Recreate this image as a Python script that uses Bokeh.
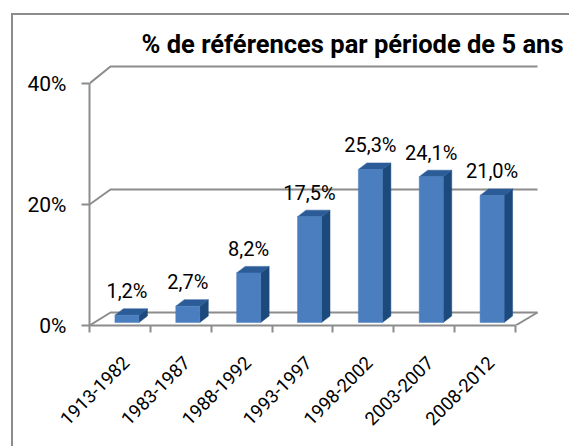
import math
from bokeh.plotting import figure
from bokeh.models import FixedTicker, Range1d, InlineStyleSheet
from bokeh.embed import file_html
from bokeh.resources import INLINE
from bokeh.core.properties import value

# ---- data ----
categories = ["1913-1982", "1983-1987", "1988-1992", "1993-1997",
              "1998-2002", "2003-2007", "2008-2012"]
percentages = [1.2, 2.7, 8.2, 17.5, 25.3, 24.1, 21.0]
y_ticks = [0, 20, 40]
y_tick_labels = ["0%", "20%", "40%"]
title_text = "% de références par période de 5 ans"

# ---- layout / style ----
W, H = 569, 446
LEFT, TOP, BOTTOM = 89, 60, 121
PX_X = 60.86     # pixels per category
PX_Y = 6.05      # pixels per percent
x_end = (W - LEFT) / PX_X
y_end = (H - TOP - BOTTOM) / PX_Y
GREY = "#8c8c8c"
FRONT = "#4a7ebf"
SIDE = "#1d4a7c"
TOPC = "#2b5c98"
FONT = "Roboto"
LABEL_SHIFT = 6 / PX_X   # category labels sit slightly right of the slot centre

border_css = InlineStyleSheet(css="""
:host::after {
  content: '';
  position: absolute;
  left: 11px; top: 13px; right: 0; bottom: 0;
  border-left: 2px solid #8c8c8c;
  border-top: 2px solid #8c8c8c;
  pointer-events: none;
  z-index: 10;
}
""")

p = figure(width=W, height=H, output_backend="svg", toolbar_location=None,
           x_range=Range1d(0, x_end), y_range=Range1d(0, y_end),
           min_border_left=LEFT, min_border_right=0,
           min_border_top=TOP, min_border_bottom=BOTTOM,
           stylesheets=[border_css])
p.outline_line_color = None
p.xgrid.visible = False
p.ygrid.visible = False
p.background_fill_color = "white"
p.border_fill_color = "white"

# title
p.title.text = title_text
p.title.text_font = FONT
p.title.text_font_style = "bold"
p.title.text_font_size = "25.5px"
p.title.text_color = "black"
p.title.align = "left"
p.title.offset = 52
p.title.standoff = 4

# y axis
p.yaxis.ticker = FixedTicker(ticks=y_ticks)
p.yaxis.major_label_overrides = {t: l for t, l in zip(y_ticks, y_tick_labels)}
p.yaxis.bounds = (min(y_ticks), max(y_ticks))
p.yaxis.axis_line_color = GREY
p.yaxis.axis_line_width = 2
p.yaxis.major_tick_line_color = GREY
p.yaxis.major_tick_line_width = 2
p.yaxis.major_tick_out = 8
p.yaxis.major_tick_in = 0
p.yaxis.minor_tick_line_color = None
p.yaxis.major_label_standoff = 15
p.yaxis.major_label_text_font = FONT
p.yaxis.major_label_text_font_size = "21px"
p.yaxis.major_label_text_color = "black"

# x axis (category labels near centers, tick marks at boundaries)
n = len(categories)
label_pos = [i + 0.5 + LABEL_SHIFT for i in range(n)]
bounds = list(range(n + 1))
p.xaxis.ticker = FixedTicker(ticks=label_pos, minor_ticks=bounds)
p.xaxis.major_label_overrides = {c: name for c, name in zip(label_pos, categories)}
p.xaxis.bounds = (0, n)
p.xaxis.axis_line_color = GREY
p.xaxis.axis_line_width = 2
p.xaxis.major_tick_line_color = None
p.xaxis.minor_tick_line_color = GREY
p.xaxis.minor_tick_line_width = 2
p.xaxis.minor_tick_out = 7
p.xaxis.minor_tick_in = 0
p.xaxis.major_label_orientation = math.pi / 4
p.xaxis.major_label_standoff = 27
p.xaxis.major_label_text_font = FONT
p.xaxis.major_label_text_font_size = "18.5px"
p.xaxis.major_label_text_color = "black"

# 3D back wall gridlines + floor
WALL_DX = 21 / PX_X
BACK_END = (537 - 89) / PX_X
def wall_dy(v):
    return (13 + 4 * v / 40) / PX_Y
wall_xs, wall_ys = [], []
for v in y_ticks:
    d = wall_dy(v)
    wall_xs.append([0, WALL_DX, BACK_END])
    wall_ys.append([v, v + d, v + d])
wall_xs.append([BACK_END, n])
wall_ys.append([wall_dy(0), 0])
p.multi_line(xs=wall_xs, ys=wall_ys, line_color=GREY, line_width=2)

# 3D bars
BASE = 3 / PX_Y
BAR_L, BAR_R = 0.5 - 5 / PX_X, 0.5 + 19 / PX_X
DX, DY = 8.5 / PX_X, 6.5 / PX_Y
lefts = [i + BAR_L for i in range(n)]
rights = [i + BAR_R for i in range(n)]
tops = [v + BASE for v in percentages]
side_xs = [[r, r + DX, r + DX, r] for r in rights]
side_ys = [[BASE, BASE + DY, t + DY, t] for t in tops]
top_xs = [[l, l + DX, r + DX, r] for l, r in zip(lefts, rights)]
top_ys = [[t, t + DY, t + DY, t] for t in tops]
p.patches(xs=side_xs, ys=side_ys, fill_color=SIDE, line_color=SIDE, line_width=0.5)
p.patches(xs=top_xs, ys=top_ys, fill_color=TOPC, line_color=TOPC, line_width=0.5)
p.quad(left=lefts, right=rights, bottom=BASE, top=tops,
       fill_color=FRONT, line_color=FRONT, line_width=0.5)

# data labels
labels = [f"{v:.1f}".replace(".", ",") + "%" for v in percentages]
p.text(x=[(l + r) / 2 for l, r in zip(lefts, rights)], y=tops, text=labels,
       text_align="center", text_baseline="middle", y_offset=-24,
       text_font=value(FONT), text_font_size="20px", text_color="black")

open("out.html", "w").write(file_html(p, INLINE))
